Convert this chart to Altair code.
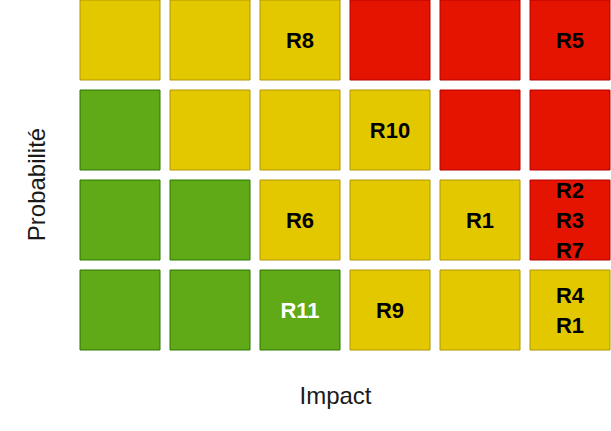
import altair as alt
import pandas as pd

# Risk matrix: rows listed top (highest probability) to bottom
impact_levels = [1, 2, 3, 4, 5, 6]
prob_levels = [4, 3, 2, 1]
cell_levels = [
    ["Y", "Y", "Y", "R", "R", "R"],
    ["G", "Y", "Y", "Y", "R", "R"],
    ["G", "G", "Y", "Y", "Y", "R"],
    ["G", "G", "G", "Y", "Y", "Y"],
]
risk_labels = [
    ["", "", "R8", "", "", "R5"],
    ["", "", "", "R10", "", ""],
    ["", "", "R6", "", "R1", "R2\nR3\nR7"],
    ["", "", "R11", "R9", "", "R4\nR1"],
]
white_labels = ["R11"]

rows = []
for ri, p in enumerate(prob_levels):
    for ci, imp in enumerate(impact_levels):
        lab = risk_labels[ri][ci]
        rows.append({
            "impact": imp,
            "prob": p,
            "level": cell_levels[ri][ci],
            "label": lab,
            "tcol": "white" if lab in white_labels else "black",
        })
df = pd.DataFrame(rows)

FONT = "Liberation Sans"
LINE_H = 30
HALF_BAND = 40
x_enc = alt.X(
    "impact:O",
    scale=alt.Scale(paddingInner=1 / 9, paddingOuter=0),
    axis=alt.Axis(title="Impact", labels=False, ticks=False, domain=False, grid=False,
                  titleFont=FONT, titleFontSize=24, titleFontWeight="normal",
                  titleColor="#1a1a1a", titleX=255, titleY=46,
                  titleBaseline="middle", titleAlign="center"),
)
y_enc = alt.Y(
    "prob:O",
    sort="descending",
    scale=alt.Scale(paddingInner=1 / 9, paddingOuter=0),
    axis=alt.Axis(title="Probabilité", labels=False, ticks=False, domain=False, grid=False,
                  titleFont=FONT, titleFontSize=24, titleFontWeight="normal",
                  titleColor="#1a1a1a", titleX=-43, titleY=184, titleAngle=270,
                  titleBaseline="middle", titleAlign="center"),
)

dom = ["G", "Y", "R"]
cells = alt.Chart(df).mark_rect(strokeWidth=1).encode(
    x=x_enc,
    y=y_enc,
    fill=alt.Fill("level:N", scale=alt.Scale(domain=dom, range=["#60A917", "#E3C800", "#E51400"]), legend=None),
    stroke=alt.Stroke("level:N", scale=alt.Scale(domain=dom, range=["#2D7600", "#B09500", "#B20000"]), legend=None),
)

texts = alt.Chart(df).transform_filter("datum.label != ''").transform_calculate(
    off=f"{HALF_BAND} - (split(datum.label, '\\n').length - 1) * {LINE_H / 2}"
).mark_text(
    font=FONT, fontSize=22, fontWeight="bold", lineBreak="\n", lineHeight=LINE_H,
    baseline="middle", align="center", dy=1,
).encode(
    x=alt.X("impact:O"),
    y=alt.Y("prob:O", sort="descending"),
    yOffset=alt.YOffset("off:Q", scale=None),
    text="label:N",
    color=alt.Color("tcol:N", scale=None),
)

chart = alt.layer(cells, texts).properties(
    width=530, height=350,
    padding={"left": 80, "top": 0, "right": 1, "bottom": 81},
    autosize="none",
).configure_view(stroke=None)

chart.save("out.html", embed_options={"renderer": "svg", "actions": False})
